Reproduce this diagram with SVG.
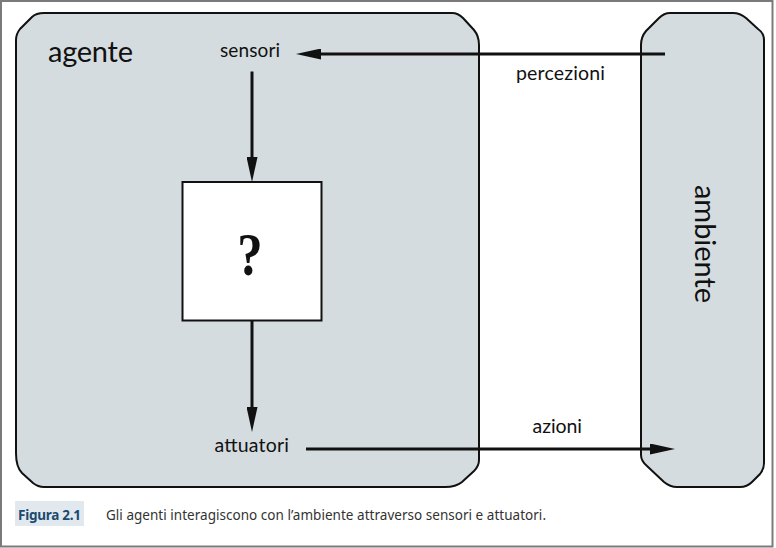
<svg xmlns="http://www.w3.org/2000/svg" width="776" height="548" viewBox="0 0 776 548">
<style>
.shape{fill:#d4dcdf;stroke:#111;stroke-width:2}
.lbl{font-family:Lato,"Liberation Sans",Arial,sans-serif;fill:#111}
.conn{stroke:#111;stroke-width:3;fill:none;marker-end:url(#ah)}
.cap{font-family:"Noto Sans","Open Sans",sans-serif;font-size:13.5px}
</style>
<defs>
<marker id="ah" viewBox="0 0 25 11" refX="15" refY="5.5" markerWidth="25" markerHeight="11" markerUnits="userSpaceOnUse" orient="auto">
<path d="M0,0 L25,5.5 L0,11 Z" fill="#111"/>
</marker>
</defs>
<rect x="0" y="0" width="776" height="548" fill="#fff"/>
<rect x="1" y="1" width="771.5" height="545.5" fill="none" stroke="#7a7a7a" stroke-width="2"/>

<g id="agente">
<path class="shape" d="M44,13 L452,13 Q458,13 463,18 L474,30 Q479,36 479,45 L479,460 Q479,466 474,471 L462,482 Q456,487 445,487 L44,487 Q38,487 33,483 L22,473 Q16,467 16,453 L16,40 Q16,34 20,29 L32,17 Q36,13 44,13 Z"/>
<text class="lbl" x="48" y="62" font-size="29" textLength="85">agente</text>
</g>

<g id="ambiente">
<path class="shape" d="M670,13 L733,13 Q740,13 746,18 L758,29 Q764,33 764,40 L764,463 Q764,469 760,474 L752,482 Q747,487 740,487 L677,487 Q670,487 664,482 L647,466 Q641,461 641,455 L641,45 Q641,37 646,31 L659,18 Q664,13 670,13 Z"/>
<text class="lbl" font-size="29" text-anchor="middle" textLength="118" transform="translate(695,244) rotate(90)">ambiente</text>
</g>

<g id="sensori">
<text class="lbl" x="220" y="57" font-size="19" textLength="60">sensori</text>
</g>

<g id="programma">
<rect x="182.5" y="182" width="139" height="138.5" fill="#fff" stroke="#111" stroke-width="2"/>
<text x="0" y="0" font-family="'Liberation Serif',serif" font-weight="bold" font-size="62" text-anchor="middle" fill="#111" transform="translate(250,275) scale(0.82,1)">?</text>
</g>

<g id="attuatori">
<text class="lbl" x="214.5" y="452" font-size="19.5" textLength="74.5">attuatori</text>
</g>

<g id="connectors">
<line class="conn" x1="665" y1="54" x2="306" y2="54"/>
<line class="conn" x1="252" y1="71.5" x2="252" y2="172"/>
<line class="conn" x1="252" y1="321" x2="252" y2="422"/>
<line class="conn" x1="306" y1="449" x2="665" y2="449"/>
<text class="lbl" x="516" y="80" font-size="19.5" textLength="89">percezioni</text>
<text class="lbl" x="532.5" y="433" font-size="19.5" textLength="49.5">azioni</text>
</g>

<g id="caption">
<rect x="15" y="501" width="69" height="25" fill="#e1e9ee"/>
<text class="cap" x="18" y="520" font-weight="bold" fill="#1c4a6e" textLength="63">Figura 2.1</text>
<text class="cap" x="106" y="520" fill="#333" textLength="440">Gli agenti interagiscono con l’ambiente attraverso sensori e attuatori.</text>
</g>
</svg>
